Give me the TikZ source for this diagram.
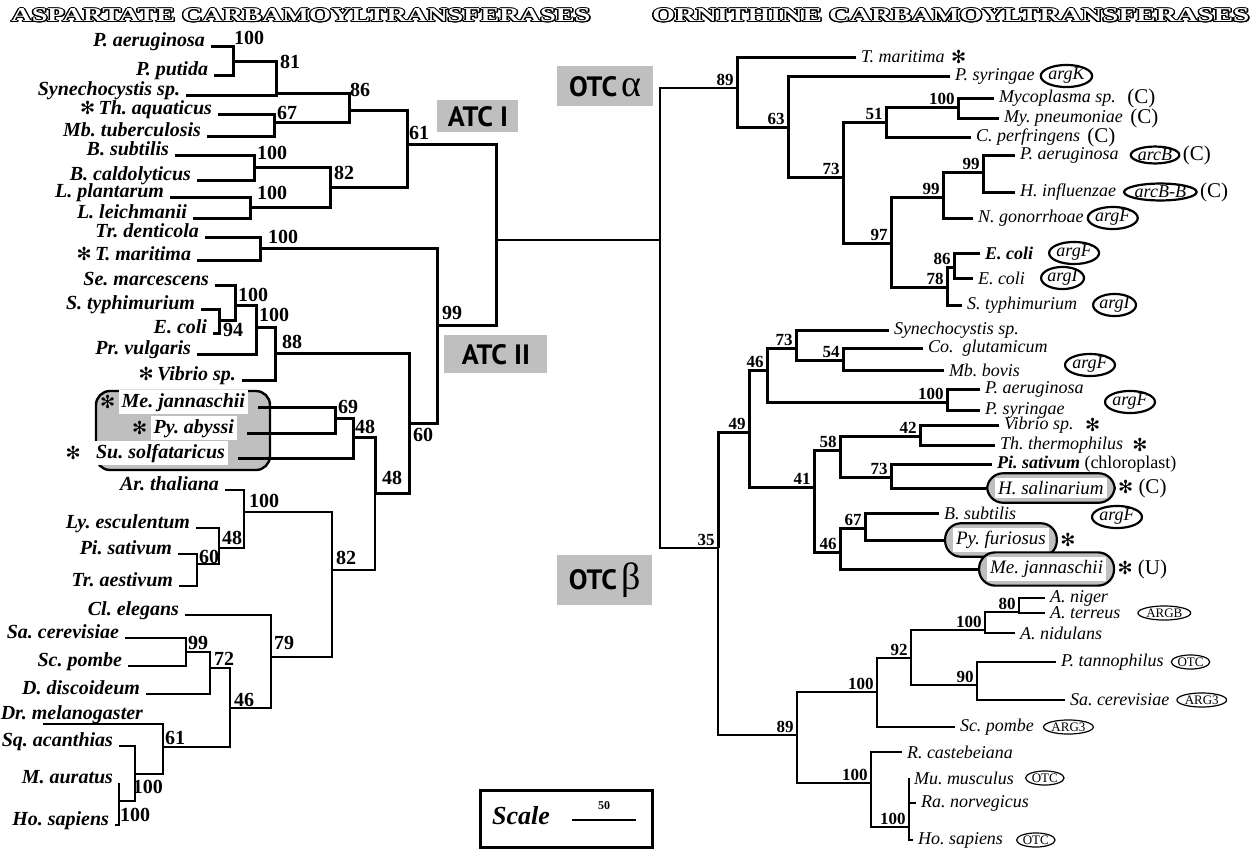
\documentclass[tikz,border=0pt]{standalone}
\usepackage{fontspec}
\setmainfont{Liberation Serif}
\newfontfamily\boxfont{PT Sans}
\newfontfamily\symfont{DejaVu Sans}
\usepackage{contour}
\contourlength{0.6pt}
\usetikzlibrary{positioning,shapes.geometric}
\setlength{\fboxsep}{1.5pt}
\frenchspacing

\newcommand{\astr}{{\symfont\fontsize{9}{9}\selectfont ✻}}
\newcommand{\hdr}[2]{\resizebox{#1}{6.5pt}{\textcolor{white}{\contour{black}{\bfseries\fontsize{12}{12}\selectfont #2}}}}

\tikzset{
  br/.style={line width=1.5pt},
  midbr/.style={line width=1pt},
  thinbr/.style={line width=0.7pt},
  lleaf/.style={anchor=base east, inner sep=0pt, outer xsep=3pt,
    font=\fontsize{10}{12}\selectfont\bfseries\itshape},
  aleaf/.style={lleaf, fill=white, inner sep=1.5pt, outer xsep=5pt},
  rleaf/.style={anchor=west, inner sep=0pt, outer xsep=2.5pt,
    font=\fontsize{9}{11}\selectfont\itshape},
  rbox/.style={anchor=west, draw, fill=gray!50, line width=1.1pt, rounded corners=8pt,
    inner xsep=4pt, inner ysep=2.5pt, font=\fontsize{9.5}{11}\selectfont\itshape},
  lbs/.style={inner sep=0pt, font=\fontsize{10}{12}\selectfont\bfseries},
  rbs/.style={inner sep=0pt, font=\fontsize{8.5}{10}\selectfont\bfseries,
    above left=1pt and 1.5pt of #1},
  clade/.style={anchor=north west, fill=gray!50, inner sep=0pt,
    font=\boxfont\bfseries\fontsize{14}{14}\selectfont},
  gene/.style={ellipse, draw, line width=1.1pt, inner sep=0pt,
    font=\fontsize{9}{10}\selectfont\itshape},
  genesm/.style={ellipse, draw, line width=0.6pt, inner sep=0.3pt,
    font=\fontsize{6.5}{7}\selectfont},
  tag/.style={inner sep=0pt, font=\fontsize{10.5}{12}\selectfont},
  archbox/.style={draw, fill=gray!50, line width=1.2pt, rounded corners=7pt},
}

\begin{document}
\begin{tikzpicture}[x=0.5pt,y=-0.5pt]
\useasboundingbox (0,0) rectangle (1255,852);

% titles
\node[anchor=west,inner sep=0pt] (hatc) at (11,16) {\hdr{289.5pt}{ASPARTATE CARBAMOYLTRANSFERASES}};
\node[anchor=west,inner sep=0pt] (hotc) at (652,16) {\hdr{298.5pt}{ORNITHINE CARBAMOYLTRANSFERASES}};

% clade boxes
\node[clade, minimum width=40.5pt, minimum height=16pt] (atcI) at (437,100) {ATC I};
\node[clade, minimum width=51.5pt, minimum height=19pt] (atcII) at (444,335) {ATC II};
\node[clade, minimum width=48pt, minimum height=20pt] (otca) at (557,66)
  {OTC\,{\rmfamily\mdseries\fontsize{19}{19}\selectfont α}};
\node[clade, minimum width=47.5pt, minimum height=25pt] (otcb) at (557,555)
  {OTC\,{\rmfamily\mdseries\fontsize{19}{19}\selectfont β}};

%%%%% ATC tree %%%%%
\coordinate (n1) at (233,61);
\coordinate (n2) at (276,93);
\coordinate (n3) at (274,122);
\coordinate (n4) at (349,110);
\coordinate (n5) at (254,167);
\coordinate (n6) at (250,207);
\coordinate (n7) at (330,187);
\coordinate (n8) at (407,144);
\coordinate (n9) at (260,248);
\coordinate (n10) at (219,320);
\coordinate (n11) at (235,305);
\coordinate (n12) at (256,327);
\coordinate (n13) at (275,353);
\coordinate (n14) at (335,418);
\coordinate (n15) at (353,437);
\coordinate (n16) at (197,564);
\coordinate (n17) at (219,548);
\coordinate (n18) at (244,512);
\coordinate (n19) at (186,652);
\coordinate (n20) at (210,668);
\coordinate (n21) at (163,747);
\coordinate (n22) at (135,774);
\coordinate (n23) at (119,801);
\coordinate (n24) at (230,708);
\coordinate (n25) at (271,657);
\coordinate (n26) at (332,570);
\coordinate (n27) at (375,493);
\coordinate (n28) at (409,423);
\coordinate (n29) at (437,325);
\coordinate (atc) at (496,240);

\node[lleaf] (paer) at (211,46) {P. aeruginosa};
\node[lleaf] (pput) at (214,75) {P. putida};
\node[lleaf] (syne) at (186,95) {Synechocystis sp.};
\node[lleaf] (taq) at (218,114) {\astr\,Th. aquaticus};
\node[lleaf] (mtub) at (207,136) {Mb. tuberculosis};
\node[lleaf] (bsub) at (175,155) {B. subtilis};
\node[lleaf] (bcal) at (197,180) {B. caldolyticus};
\node[lleaf] (lpla) at (170,197) {L. plantarum};
\node[lleaf] (llei) at (193,218) {L. leichmanii};
\node[lleaf] (tden) at (205,237) {Tr. denticola};
\node[lleaf] (tmar) at (197,260) {\astr\,T. maritima};
\node[lleaf] (smar) at (215,285) {Se. marcescens};
\node[lleaf] (styp) at (201,309) {S. typhimurium};
\node[lleaf] (ecol) at (213,333) {E. coli};
\node[lleaf] (pvul) at (197,354) {Pr. vulgaris};
\node[lleaf] (vibr) at (242,380) {\astr\,Vibrio sp.};

\draw[archbox] (96,391) rectangle (270,470);
\node[aleaf] (mjan) at (258,407) {Me. jannaschii};
\node[aleaf] (pyab) at (247,433) {Py. abyssi};
\node[aleaf] (ssol) at (238,458) {Su. solfataricus};
\node[tag, left=-3.5pt of mjan] (amjan) {\astr};
\node[tag, left=-3.5pt of pyab] (apyab) {\astr};
\node[tag, left=1pt of ssol] (assol) {\astr};

\node[lleaf] (arth) at (225,490) {Ar. thaliana};
\node[lleaf] (lyes) at (196,528) {Ly. esculentum};
\node[lleaf] (pisa) at (178,554) {Pi. sativum};
\node[lleaf] (trae) at (179,586) {Tr. aestivum};
\node[lleaf] (clel) at (185,615) {Cl. elegans};
\node[lleaf] (sace) at (125,638) {Sa. cerevisiae};
\node[lleaf] (scpo) at (128,666) {Sc. pombe};
\node[lleaf] (ddis) at (146,694) {D. discoideum};
\node[lleaf] (drme) at (149,719) {Dr. melanogaster};
\coordinate (drmeT) at (43,724);
\node[lleaf] (sqac) at (119,746) {Sq. acanthias};
\node[lleaf] (maur) at (119,783) {M. auratus};
\node[lleaf] (hsap) at (115,825) {Ho. sapiens};

\foreach \p/\c in {n1/paer,n1/pput,n2/syne,n3/taq,n3/mtub,n5/bsub,n5/bcal,
    n6/lpla,n6/llei,n9/tden,n9/tmar,n11/smar,n10/styp,n10/ecol,n12/pvul,
    n13/vibr,n14/mjan,n14/pyab,n15/ssol}
  \draw[br] (\p) |- (\c.base east);
\foreach \p/\c in {n2/n1,n4/n2,n4/n3,n7/n5,n7/n6,n8/n4,n8/n7,atc/n8,atc/n29,
    n29/n9,n29/n28,n11/n10,n12/n11,n13/n12,n28/n13,n28/n27,n15/n14,n27/n15}
  \draw[br] (\p) |- (\c);
\foreach \p/\c in {n18/arth,n17/lyes,n16/pisa,n16/trae,n25/clel,n19/sace,
    n19/scpo,n20/ddis,n22/sqac,n23/maur,n23/hsap}
  \draw[thinbr] (\p) |- (\c.base east);
\foreach \p/\c in {n21/drmeT,n27/n26,n26/n18,n26/n25,n18/n17,n17/n16,n20/n19,
    n24/n20,n24/n21,n25/n24,n21/n22,n22/n23}
  \draw[thinbr] (\p) |- (\c);

\node[lbs] (b1) at (249,38) {100};
\node[lbs] (b2) at (290,62) {81};
\node[lbs] (b3) at (287,113) {67};
\node[lbs] (b4) at (360,90) {86};
\node[lbs] (b5) at (272,153) {100};
\node[lbs] (b6) at (272,193) {100};
\node[lbs] (b7) at (344,173) {82};
\node[lbs] (b8) at (419,133) {61};
\node[lbs] (b9) at (283,237) {100};
\node[lbs] (b10) at (253,295) {100};
\node[lbs] (b11) at (233,330) {94};
\node[lbs] (b12) at (274,315) {100};
\node[lbs] (b13) at (292,342) {88};
\node[lbs] (b14) at (348,407) {69};
\node[lbs] (b15) at (365,427) {48};
\node[lbs] (b16) at (423,435) {60};
\node[lbs] (b17) at (452,313) {99};
\node[lbs] (b18) at (392,478) {48};
\node[lbs] (b19) at (264,501) {100};
\node[lbs] (b20) at (232,538) {48};
\node[lbs] (b21) at (209,557) {60};
\node[lbs] (b22) at (346,558) {82};
\node[lbs] (b23) at (284,643) {79};
\node[lbs] (b24) at (198,643) {99};
\node[lbs] (b25) at (224,659) {72};
\node[lbs] (b26) at (244,700) {46};
\node[lbs] (b27) at (175,738) {61};
\node[lbs] (b28) at (148,787) {100};
\node[lbs] (b29) at (135,815) {100};

%%%%% OTC tree %%%%%
\coordinate (otc) at (660,240);
\coordinate (m89) at (737,88);
\coordinate (m63) at (788,127);
\coordinate (m73) at (843,177);
\coordinate (m51) at (886,122);
\coordinate (m100a) at (958,107);
\coordinate (m97) at (891,243);
\coordinate (m99b) at (943,197);
\coordinate (m99a) at (983,172);
\coordinate (m78) at (947,287);
\coordinate (m86) at (954,267);
\coordinate (m35) at (718,548);
\coordinate (m49) at (749,432);
\coordinate (m46a) at (767,370);
\coordinate (m73b) at (796,348);
\coordinate (m54) at (843,360);
\coordinate (m100b) at (947,402);
\coordinate (m41) at (814,487);
\coordinate (m58) at (840,450);
\coordinate (m42) at (920,436);
\coordinate (m73c) at (891,477);
\coordinate (m46b) at (840,552);
\coordinate (m67) at (865,528);
\coordinate (m89b) at (797,735);
\coordinate (m100c) at (877,692);
\coordinate (m92) at (911,658);
\coordinate (m100d) at (985,630);
\coordinate (m80) at (1019,612);
\coordinate (m90) at (977,685);
\coordinate (m100e) at (871,783);
\coordinate (m100f) at (909,827);

\draw[midbr] (atc) -- (otc);

\node[rleaf] (tmarr) at (856,57) {T. maritima};
\node[rleaf] (psyr) at (950,76) {P. syringae};
\node[rleaf] (myco) at (994,98) {Mycoplasma sp.};
\node[rleaf] (mpne) at (999,118) {My. pneumoniae};
\node[rleaf] (cper) at (971,137) {C. perfringens};
\node[rleaf] (paerr) at (1015,155) {P. aeruginosa};
\node[rleaf] (hinf) at (1015,192) {H. influenzae};
\node[rleaf] (ngon) at (973,218) {N. gonorrhoae};
\node[rleaf, font=\fontsize{9}{11}\selectfont\bfseries\itshape] (ecola) at (980,253) {E. coli};
\node[rleaf] (ecolb) at (973,278) {E. coli};
\node[rleaf] (stypr) at (962,305) {S. typhimurium};
\node[rleaf] (syner) at (889,330) {Synechocystis sp.};
\node[rleaf] (cglu) at (923,348) {Co.~ glutamicum};
\node[rleaf] (mbov) at (944,370) {Mb. bovis};
\node[rleaf] (paerb) at (980,389) {P. aeruginosa};
\node[rleaf] (psyrb) at (980,410) {P. syringae};
\node[rleaf] (vibrr) at (999,425) {Vibrio sp.};
\node[rleaf] (tthe) at (995,445) {Th. thermophilus};
\node[rleaf] (pisar) at (992,464) {\bfseries Pi. sativum \upshape\mdseries(chloroplast)};
\node[rbox] (hsal) at (986,488) {\colorbox{white}{H. salinarium}};
\node[rleaf] (bsubr) at (939,513) {B. subtilis};
\node[rbox] (pfur) at (944,540) {\colorbox{white}{Py. furiosus}};
\node[rbox] (mjanr) at (978,569) {\colorbox{white}{Me. jannaschii}};
\node[rleaf] (anig) at (1045,598) {A. niger};
\node[rleaf] (ater) at (1045,613) {A. terreus};
\node[rleaf] (anid) at (1015,633) {A. nidulans};
\node[rleaf] (ptan) at (1056,662) {P. tannophilus};
\node[rleaf] (sacer) at (1065,700) {Sa. cerevisiae};
\node[rleaf] (scpor) at (955,727) {Sc. pombe};
\node[rleaf] (rcas) at (902,752) {R. castebeiana};
\node[rleaf] (mmus) at (909,778) {Mu. musculus};
\node[rleaf] (rnor) at (916,803) {Ra. norvegicus};
\node[rleaf] (hsapr) at (913,840) {Ho. sapiens};

\foreach \p/\c in {otc/m89,otc/m35}
  \draw[midbr] (\p) |- (\c);
\foreach \p/\c in {m89/m63,m63/m73,m73/m51,m73/m97,m51/m100a,m97/m99b,m97/m78,
    m99b/m99a,m78/m86,m35/m49,m49/m46a,m49/m41,m46a/m73b,m46a/m100b,m73b/m54,
    m41/m58,m41/m46b,m58/m42,m58/m73c,m46b/m67}
  \draw[br] (\p) |- (\c);
\foreach \p/\c in {m89/tmarr,m63/psyr,m100a/myco,m100a/mpne,m51/cper,m99a/paerr,
    m99a/hinf,m99b/ngon,m86/ecola,m86/ecolb,m78/stypr,m73b/syner,m54/cglu,
    m54/mbov,m100b/paerb,m100b/psyrb,m42/vibrr,m42/tthe,m73c/pisar,m67/bsubr,
    m73c/hsal,m67/pfur,m46b/mjanr}
  \draw[br] (\p) |- (\c.west);
\draw[midbr] (m35) |- (m89b);
\foreach \p/\c in {m89b/m100c,m89b/m100e,m100c/m92,m92/m100d,m92/m90,m100d/m80,m100e/m100f}
  \draw[thinbr] (\p) |- (\c);
\foreach \p/\c in {m80/anig,m80/ater,m100d/anid,m90/ptan,m90/sacer,m100c/scpor,
    m100e/rcas,m100f/mmus,m100f/rnor,m100f/hsapr}
  \draw[thinbr] (\p) |- (\c.west);

\foreach \n/\t in {m89/89,m63/63,m73/73,m51/51,m100a/100,m97/97,m99b/99,m99a/99,
    m78/78,m86/86,m35/35,m49/49,m46a/46,m73b/73,m54/54,m100b/100,m41/41,m58/58,
    m42/42,m73c/73,m46b/46,m67/67,m89b/89,m100c/100,m92/92,m100d/100,m80/80,
    m90/90,m100e/100,m100f/100}
  \node[rbs=\n] (l\n) {\t};

% marks after the names
\node[tag, right=0.5pt of tmarr] (stm) {\astr};
\node[gene, right=0pt of psyr] (gpsyr) {argK};
\node[tag, right=3pt of myco] (cmyco) {(C)};
\node[tag, right=1pt of mpne] (cmpne) {(C)};
\node[tag, right=1pt of cper] (ccper) {(C)};
\node[gene, right=3pt of paerr] (gpaer) {arcB};
\node[tag, right=1pt of gpaer] (cpaer) {(C)};
\node[gene, right=1pt of hinf] (ghinf) {arcB-B};
\node[tag, right=1pt of ghinf] (chinf) {(C)};
\node[gene, right=-1pt of ngon] (gngon) {argF};
\node[gene, right=5pt of ecola] (gecola) {argF};
\node[gene, right=5pt of ecolb] (gecolb) {argI};
\node[gene, right=5pt of stypr] (gstyp) {argI};
\node[gene] (gcglu) at (1090,365) {argF};
\node[gene] (gpaerb) at (1130,402) {argF};
\node[tag, right=3pt of vibrr] (svib) {\astr};
\node[tag, right=2pt of tthe] (stth) {\astr};
\node[tag, right=1pt of hsal] (shsal) {\astr\ (C)};
\node[gene] (gbsub) at (1117,517) {argF};
\node[tag, right=1pt of pfur] (spfur) {\astr};
\node[tag, right=1pt of mjanr] (smjan) {\astr\ (U)};
\node[genesm, right=6pt of ater] (gater) {ARGB};
\node[genesm, right=1pt of ptan] (gptan) {OTC};
\node[genesm, right=1pt of sacer] (gsacer) {ARG3};
\node[genesm, right=2pt of scpor] (gscpo) {ARG3};
\node[genesm, right=3pt of mmus] (gmmus) {OTC};
\node[genesm, right=4pt of hsapr] (ghsap) {OTC};

% scale
\node[draw, line width=1.5pt, minimum width=86pt, minimum height=28.5pt, inner sep=0pt,
  anchor=north west] (scl) at (479,789) {};
\node[inner sep=0pt, font=\fontsize{13}{13}\selectfont\bfseries\itshape] (sclt) at (521,816) {Scale};
\coordinate (sl0) at (572,820);
\coordinate (sl1) at (636,820);
\draw[line width=1.2pt] (sl0) -- (sl1);
\node[inner sep=0pt, font=\fontsize{6}{6}\selectfont\bfseries] (scln) at (604,806) {50};
\end{tikzpicture}
\end{document}
